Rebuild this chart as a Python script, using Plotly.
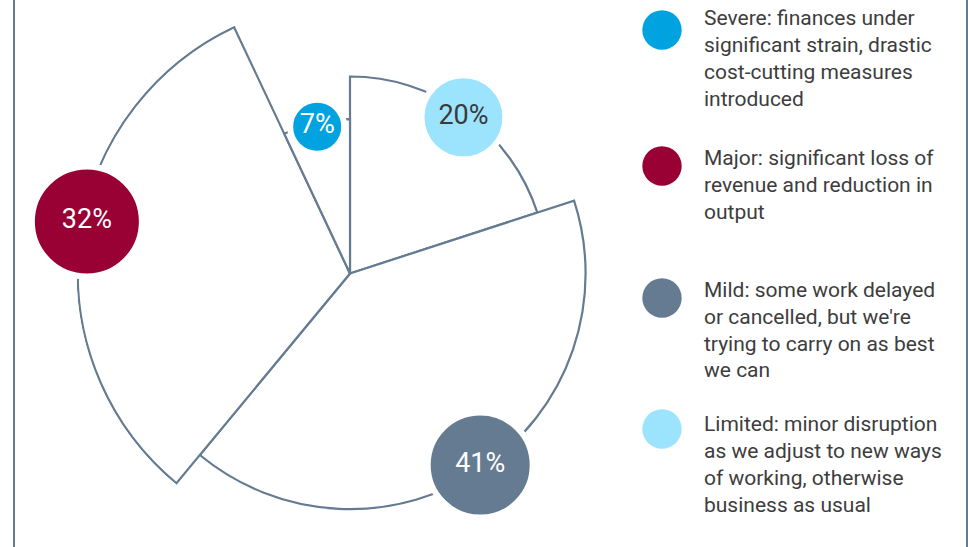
import plotly.graph_objects as go

# ---------------- data ----------------
categories = ["Severe", "Major", "Mild", "Limited"]
shares = [7, 32, 41, 20]                      # percent of respondents
label_text = ["7%", "32%", "41%", "20%"]
wedge_length = [156, 275, 238, 199]           # radial length of each wedge
clockwise_order = ["Limited", "Mild", "Major", "Severe"]
legend_lines = [
    ["Severe: finances under", "significant strain, drastic", "cost-cutting measures", "introduced"],
    ["Major: significant loss of", "revenue and reduction in", "output"],
    ["Mild: some work delayed", "or cancelled, but we're", "trying to carry on as best", "we can"],
    ["Limited: minor disruption", "as we adjust to new ways", "of working, otherwise", "business as usual"],
]

# ---------------- styles ----------------
W, H = 968, 547
SLATE = "#657b91"
dot_colors = {"Severe": "#00a3e0", "Major": "#990033", "Mild": "#657b91", "Limited": "#9ce4fd"}
label_font_colors = {"Severe": "white", "Major": "white", "Mild": "white", "Limited": "#3a3a3a"}
dot_sizes = {"Severe": 54, "Major": 110, "Mild": 105, "Limited": 84}
label_angle_shift = {"Severe": 0, "Major": 4, "Mild": 0, "Limited": 0}
label_r_inset = 4
legend_dot_y = [30, 166, 298, 429]
legend_line_y0 = [18.3, 158, 289.5, 423.5]
legend_line_step = 27
legend_dot_x = 662
legend_text_x = 702

total = sum(shares)
thetas, widths, rs = [], [], []
start = 0.0
for cat in clockwise_order:
    i = categories.index(cat)
    sweep = shares[i] / total * 360.0
    thetas.append(start + sweep / 2)
    widths.append(sweep)
    rs.append(wedge_length[i])
    start += sweep

fig = go.Figure()
fig.add_trace(go.Barpolar(
    r=rs, theta=thetas, width=widths,
    marker=dict(color="white", opacity=1, line=dict(color=SLATE, width=2.2)),
    hoverinfo="skip", showlegend=False,
))

lab_r, lab_t, lab_txt, lab_col, lab_size, lab_fc = [], [], [], [], [], []
for k, cat in enumerate(clockwise_order):
    i = categories.index(cat)
    lab_r.append(wedge_length[i] - label_r_inset)
    lab_t.append(thetas[k] + label_angle_shift[cat])
    lab_txt.append(label_text[i])
    lab_col.append(dot_colors[cat])
    lab_size.append(dot_sizes[cat])
    lab_fc.append(label_font_colors[cat])

fig.add_trace(go.Scatterpolar(
    r=lab_r, theta=lab_t, mode="markers+text", text=lab_txt,
    textposition="middle center",
    textfont=dict(family="Roboto", size=27, color=lab_fc),
    marker=dict(size=lab_size, color=lab_col, opacity=1,
                line=dict(color="white", width=6)),
    cliponaxis=False, hoverinfo="skip", showlegend=False,
))

R = H / 2
cx = 350
fig.update_layout(
    width=W, height=H,
    margin=dict(l=0, r=0, t=0, b=0),
    paper_bgcolor="white",
    polar=dict(
        domain=dict(x=[(cx - R) / W, (cx + R) / W], y=[0, 1]),
        bgcolor="rgba(0,0,0,0)",
        radialaxis=dict(range=[0, 276.3], visible=False, showgrid=False),
        angularaxis=dict(rotation=90, direction="clockwise", visible=False,
                         showgrid=False),
    ),
)

shapes = [
    dict(type="line", xref="paper", yref="paper", x0=14 / W, x1=14 / W, y0=0, y1=1,
         line=dict(color=SLATE, width=2)),
    dict(type="line", xref="paper", yref="paper", x0=967 / W, x1=967 / W, y0=0, y1=1,
         line=dict(color=SLATE, width=2)),
]
annotations = []
for j, cat in enumerate(categories):
    shapes.append(dict(
        type="circle", xref="paper", yref="paper",
        xsizemode="pixel", ysizemode="pixel",
        xanchor=legend_dot_x / W, yanchor=1 - legend_dot_y[j] / H,
        x0=-19.7, x1=19.7, y0=-19.7, y1=19.7,
        fillcolor=dot_colors[cat], line=dict(width=0),
    ))
    for n, line in enumerate(legend_lines[j]):
        yy = legend_line_y0[j] + n * legend_line_step
        annotations.append(dict(
            text=line, xref="paper", yref="paper",
            x=legend_text_x / W, y=1 - yy / H,
            xanchor="left", yanchor="middle", showarrow=False,
            font=dict(family="Roboto", size=21, color="#3d3d3d"),
        ))
fig.update_layout(shapes=shapes, annotations=annotations)

fig.write_html(
    "out.html",
    config={"displayModeBar": False},
    post_script="document.body.style.margin='0';document.body.style.overflow='hidden';",
)
